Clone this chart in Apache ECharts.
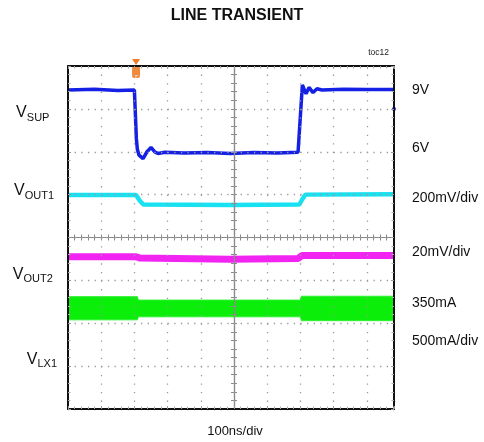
<!DOCTYPE html>
<html><head><meta charset="utf-8">
<script src="https://cdn.jsdelivr.net/npm/echarts@6/dist/echarts.min.js"></script>
<style>html,body{margin:0;padding:0;background:#fff}#c{width:484px;height:442px}</style>
</head><body><div id="c"></div>
<script>
// time in divisions (100ns/div), level in divisions
const vsupT = [0, 0.8, 1.5, 2.0, 2.06, 2.09, 2.14, 2.26, 2.38, 2.5, 2.62, 2.71, 2.92, 3.5, 4.2, 4.88, 5.6, 6.3, 6.93, 6.99, 7.06, 7.17, 7.26, 7.38, 7.5, 7.65, 8.3, 9.0, 9.82];
const vsupV = [7.44, 7.46, 7.43, 7.44, 6.3, 6.05, 5.92, 5.84, 6.0, 6.1, 5.99, 5.96, 5.99, 5.97, 5.98, 5.96, 5.98, 5.97, 5.99, 6.0, 7.56, 7.35, 7.5, 7.38, 7.47, 7.44, 7.46, 7.45, 7.45];
const vout1T = [0, 2.05, 2.17, 2.27, 4.88, 6.97, 7.05, 7.15, 9.82];
const vout1V = [4.99, 4.99, 4.85, 4.77, 4.76, 4.77, 4.88, 5.0, 5.01];
const vout2T = [0, 2.05, 2.17, 4.88, 6.93, 7.05, 9.82];
const vout2V = [3.55, 3.55, 3.52, 3.49, 3.51, 3.58, 3.58];
const lxT  = [0, 2.09, 2.12, 7.0, 7.03, 9.82];
const lxHi = [2.62, 2.62, 2.54, 2.54, 2.63, 2.63];
const lxLo = [2.08, 2.08, 2.15, 2.15, 2.06, 2.06];
const trigger = [2.05, 8];
const refMark = [9.82, 7.0];

const leftLabels = [
  {main: 'V', sub: 'SUP',  x: 16,   y: 113},
  {main: 'V', sub: 'OUT1', x: 14,   y: 191},
  {main: 'V', sub: 'OUT2', x: 12.7, y: 274.5},
  {main: 'V', sub: 'LX1',  x: 26.7, y: 359.5}
];
const rightLabels = [
  {text: '9V', y: 90}, {text: '6V', y: 148}, {text: '200mV/div', y: 198},
  {text: '20mV/div', y: 252}, {text: '350mA', y: 303}, {text: '500mA/div', y: 341}
];

const zip = (a, b) => a.map((v, i) => [v, b[i]]);
const FF = 'Liberation Sans, Arial, sans-serif';
const XMAX = 9.82;

function borderX(pos, split) {
  return {type:'value', min:0, max:XMAX, interval:1, position:pos,
    axisLine:{show:true, onZero:false, lineStyle:{color:'#111', width:2}},
    axisTick:{show:true, inside:true, length:3, lineStyle:{color:'#999'}},
    minorTick:{show:true, splitNumber:5, length:2.5, lineStyle:{color:'#aaa'}},
    axisLabel:{show:false},
    splitLine:{show:split, lineStyle:{color:'#9a9a9a', width:1.3, type:[1.3, 7.28]}},
    z: 6};
}
function borderY(pos, split) {
  return {type:'value', min:0, max:8, interval:1, position:pos,
    axisLine:{show:true, onZero:false, lineStyle:{color:'#111', width:2}},
    axisTick:{show:true, inside:true, length:3, lineStyle:{color:'#999'}},
    minorTick:{show:true, splitNumber:5, length:2.5, lineStyle:{color:'#aaa'}},
    axisLabel:{show:false},
    splitLine:{show:split, lineStyle:{color:'#9a9a9a', width:1.3, type:[1.3, 5.34]}},
    z: 6};
}
function centerX(inside) {
  return {type:'value', min:0, max:XMAX, interval:1, position:'bottom',
    axisLine:{show:true, onZero:true, onZeroAxisIndex:4, lineStyle:{color:'#8a8a8a', width:1.2}},
    axisTick:{show:true, inside:inside, length:3, lineStyle:{color:'#8a8a8a'}},
    minorTick:{show:true, splitNumber:5, length:3, lineStyle:{color:'#8a8a8a'}},
    axisLabel:{show:false}, splitLine:{show:false}, z: 5};
}
function centerY(inside) {
  return {type:'value', min:0, max:8, interval:1, position:'left',
    axisLine:{show:true, onZero:true, onZeroAxisIndex:4, lineStyle:{color:'#8a8a8a', width:1.2}},
    axisTick:{show:true, inside:inside, length:3, lineStyle:{color:'#8a8a8a'}},
    minorTick:{show:true, splitNumber:5, length:3, lineStyle:{color:'#8a8a8a'}},
    axisLabel:{show:false}, splitLine:{show:false}, z: 5};
}

const graphics = [
  {type:'text', x:237, y:16, style:{text:'LINE TRANSIENT', font:'bold 16px ' + FF, fill:'#111', align:'center', verticalAlign:'middle'}},
  {type:'text', x:389, y:53, style:{text:'toc12', font:'8.5px ' + FF, fill:'#222', align:'right', verticalAlign:'middle'}},
  {type:'text', x:235, y:431.5, style:{text:'100ns/div', font:'13px ' + FF, fill:'#111', align:'center', verticalAlign:'middle'}}
];
leftLabels.forEach(l => {
  graphics.push({type:'text', x:l.x, y:l.y, style:{text:l.main, font:'16px ' + FF, fill:'#111', align:'left', verticalAlign:'middle'}});
  graphics.push({type:'text', x:l.x + 10.8, y:l.y + 4.5, style:{text:l.sub, font:'11px ' + FF, fill:'#111', align:'left', verticalAlign:'middle'}});
});
rightLabels.forEach(l => {
  graphics.push({type:'text', x:412, y:l.y, style:{text:l.text, font:'14px ' + FF, fill:'#111', align:'left', verticalAlign:'middle'}});
});

const chart = echarts.init(document.getElementById('c'), null, {renderer:'canvas'});
chart.setOption({
  animation:false,
  backgroundColor:'#fff',
  grid:{left:68, right:90, top:66, bottom:33},
  xAxis:[borderX('bottom', true), borderX('top', false), centerX(true), centerX(false),
         {type:'value', min:-5, max:XMAX-5, show:false}],
  yAxis:[borderY('left', true), borderY('right', false), centerY(true), centerY(false),
         {type:'value', min:-4, max:4, show:false}],
  graphic: graphics,
  series:[
    {type:'custom', name:'VLX1', xAxisIndex:0, yAxisIndex:0, data:[[0, 0]], z:2,
     renderItem:(params, api) => {
       const pts = [];
       for (let i = 0; i < lxT.length; i++) pts.push(api.coord([lxT[i], lxHi[i]]));
       for (let i = lxT.length - 1; i >= 0; i--) pts.push(api.coord([lxT[i], lxLo[i]]));
       return {type:'polygon', shape:{points:pts}, style:{fill:'#0aee0a', stroke:'#2ef02e', lineWidth:1}};
     }},
    {type:'line', name:'VOUT2', data:zip(vout2T, vout2V), symbol:'none', z:3,
     lineStyle:{color:'#f224f2', width:7}},
    {type:'line', name:'VOUT1', data:zip(vout1T, vout1V), symbol:'none', z:3,
     lineStyle:{color:'#18e2f2', width:4.5}},
    {type:'line', name:'VSUP', data:zip(vsupT, vsupV), symbol:'none', z:4,
     lineStyle:{color:'#1420e4', width:3.5},
     markPoint:{silent:true, animation:false, data:[
       {coord:trigger, symbol:'triangle', symbolRotate:180, symbolSize:[8,6], symbolOffset:[0,-4],
        itemStyle:{color:'#f07a28'}, label:{show:false}},
       {coord:trigger, symbol:'roundRect', symbolSize:[8,12], symbolOffset:[0,6],
        itemStyle:{color:'#f08a3a'}, label:{show:true, formatter:'T', color:'#ffe8d8', fontSize:8, fontFamily:FF, position:'inside', offset:[0,6]}},
       {coord:refMark, symbol:'circle', symbolSize:4, itemStyle:{color:'#1420e4'}, label:{show:false}}
     ]}}
  ]
});
</script>
</body></html>
